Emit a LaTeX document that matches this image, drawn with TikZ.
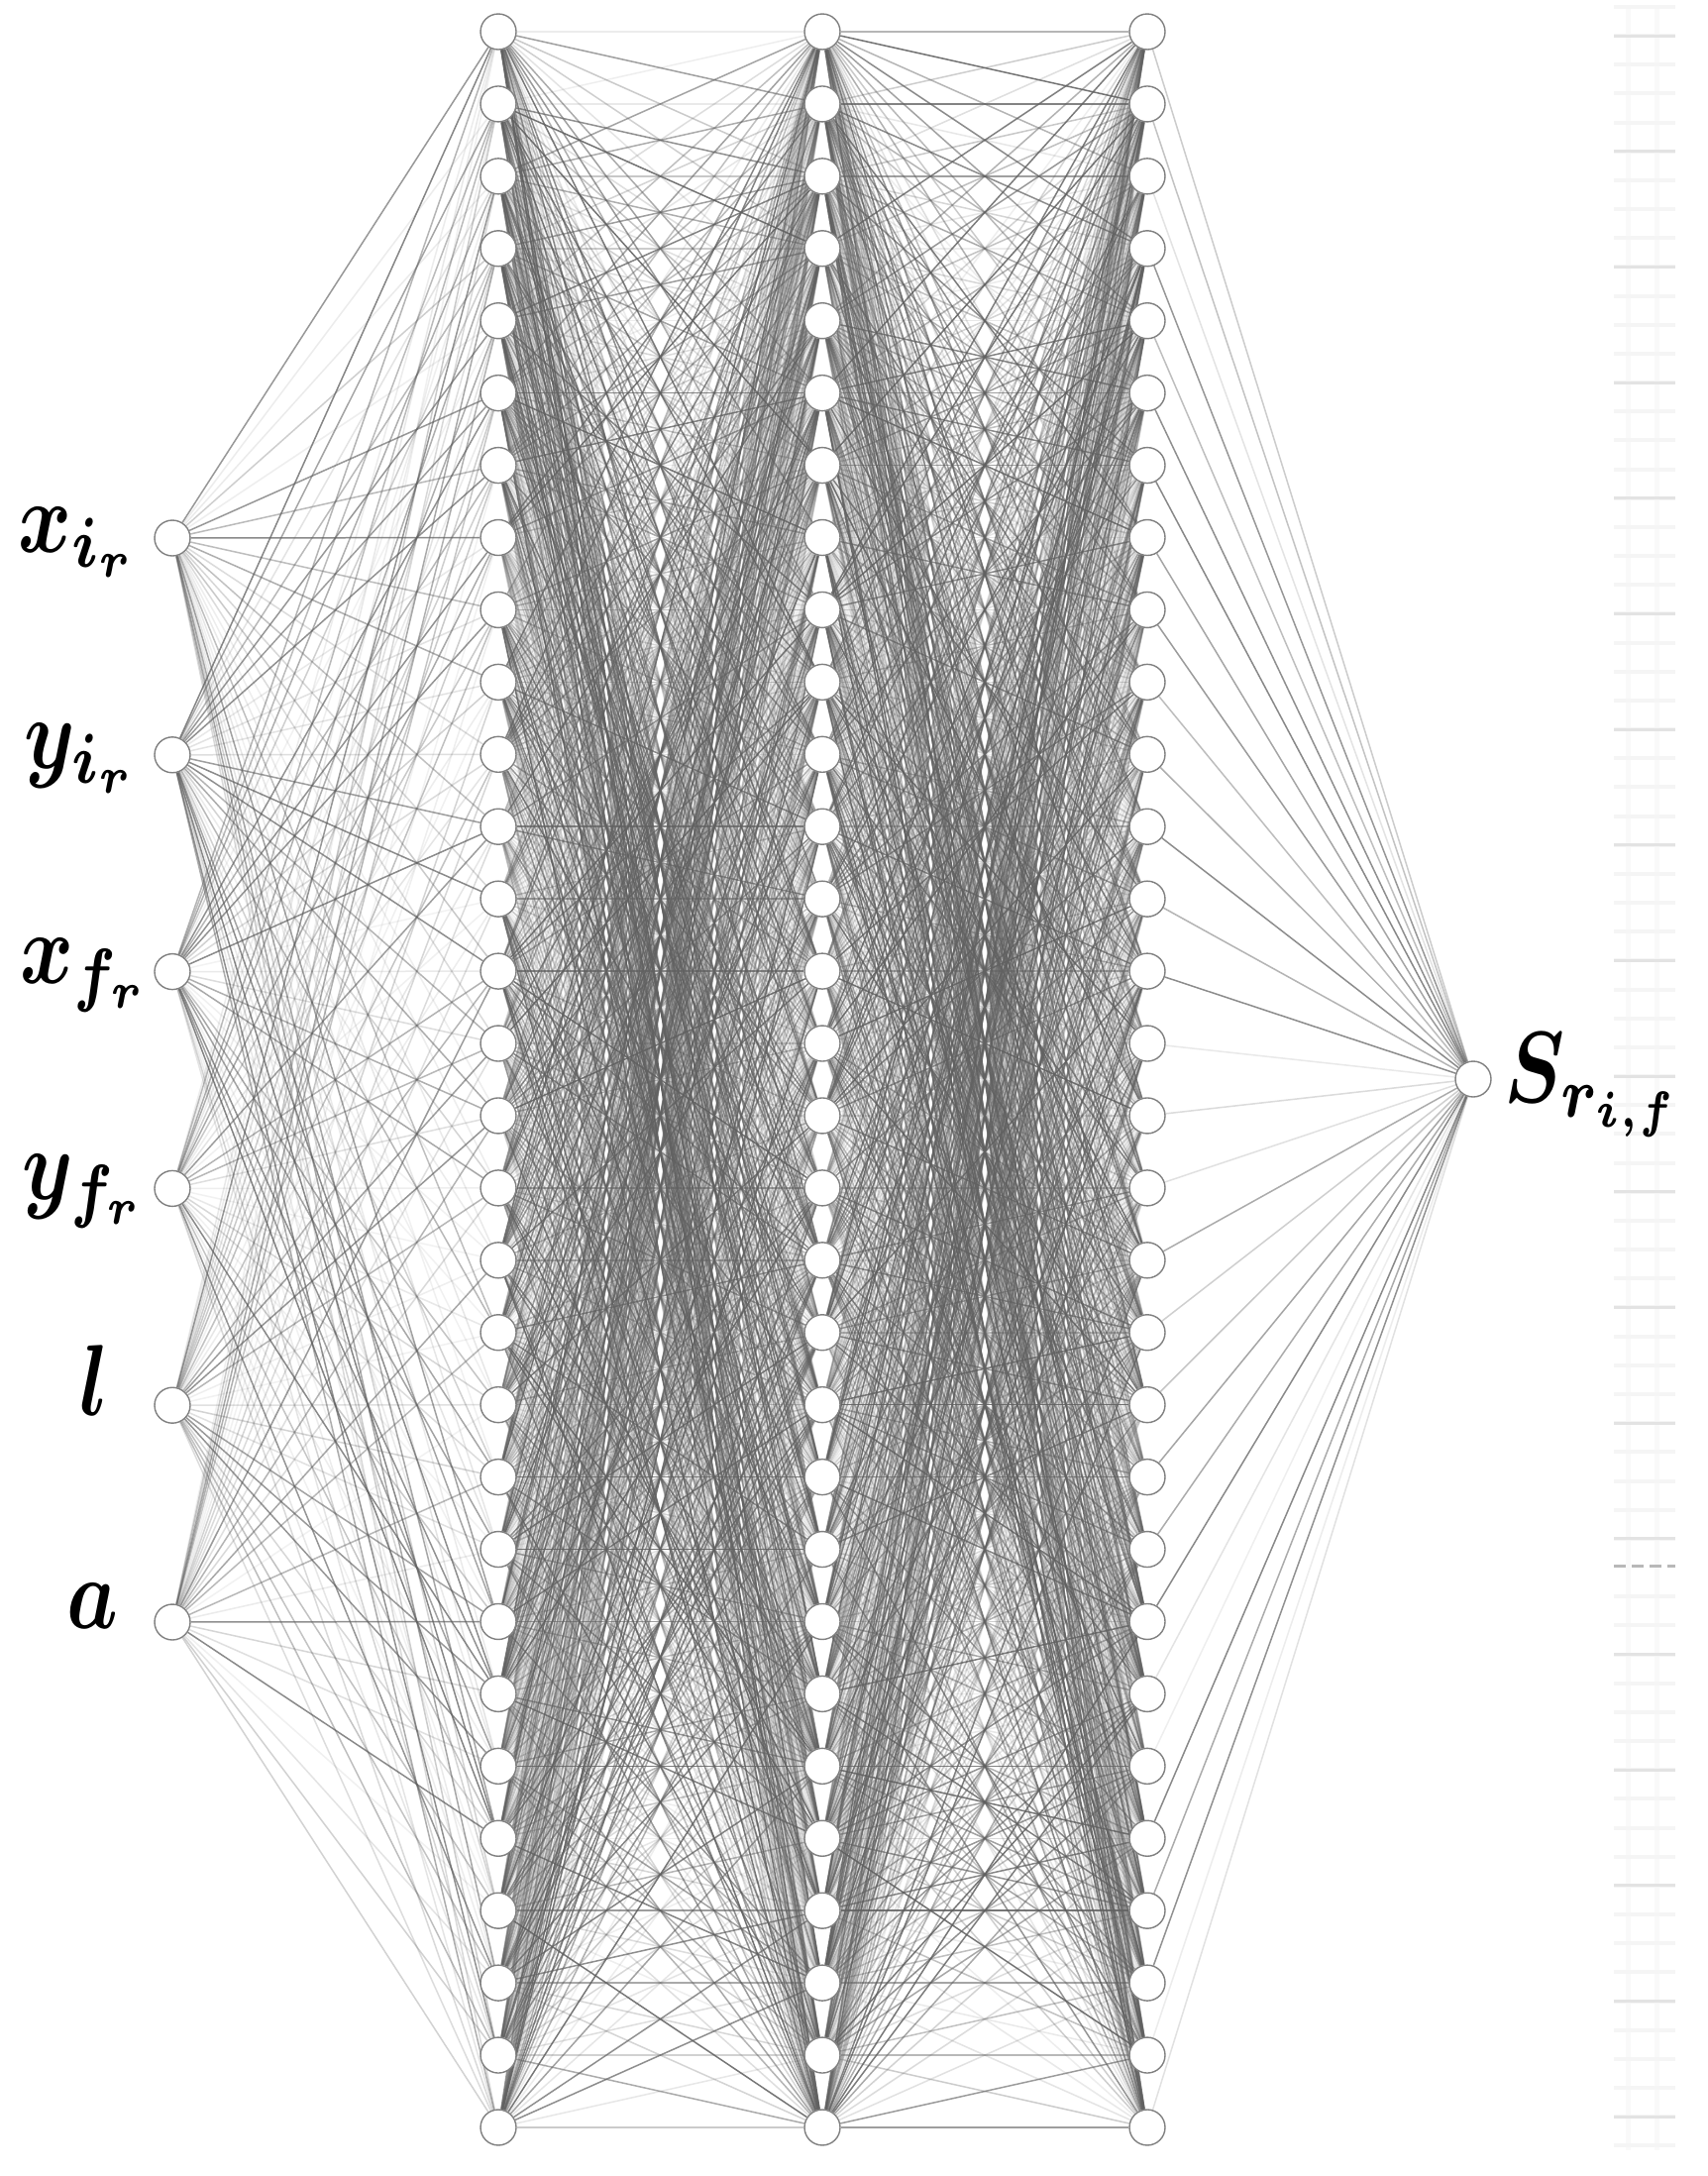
\documentclass[tikz,border=0pt]{standalone}
\usepackage{graphicx}
\usetikzlibrary{backgrounds}
\newcommand{\biglbl}[1]{\scalebox{4.1}[5.1]{\boldmath$#1$}}
\begin{document}
\begin{tikzpicture}[x=0.5pt,y=-0.5pt,
  neuron/.style={circle,draw=black!50,fill=white,line width=0.7pt,minimum size=18pt,inner sep=0pt},
  edge/.style={draw=black!62,line width=0.75pt},
  lbl/.style={anchor=base,inner sep=0pt},
  gridlight/.style={draw=black!4,line width=2pt},
  griddark/.style={draw=black!11,line width=1.5pt},
  gridvert/.style={draw=black!2.5,line width=2.5pt},
  griddash/.style={draw=black!28,line width=1.5pt,dash pattern=on 6pt off 3pt}]
\useasboundingbox (0,0) rectangle (1724,2196);
% nodes
\foreach \i in {1,...,6}{
  \node[neuron] (I\i) at (174,{543+218.8*(\i-1)}) {};
}
\foreach \l/\x in {1/503,2/830,3/1158}{
  \foreach \j in {1,...,30}{
    \node[neuron] (H\l-\j) at (\x,{32+72.93*(\j-1)}) {};
  }
}
\node[neuron] (O) at (1487,1089) {};
% labels
\node[lbl] (LI1) at (79,557) {\biglbl{x_{i_r}}};
\node[lbl] (LI2) at (82,775) {\biglbl{y_{i_r}}};
\node[lbl] (LI3) at (86,992) {\biglbl{x_{f_r}}};
\node[lbl] (LI4) at (85,1210) {\biglbl{y_{f_r}}};
\node[lbl] (LI5) at (95,1428) {\biglbl{l}};
\node[lbl] (LI6) at (93,1643) {\biglbl{a}};
\node[lbl] (LO) at (1608,1112) {\biglbl{S_{r_{i,f}}}};
\begin{pgfonlayer}{background}
  \fill[white] (0,0) rectangle (1724,2196);
  % faint grid at right
  \foreach \xx in {1643,1672}{\draw[gridvert] (\xx,5) -- (\xx,2170);}
  \foreach \k in {-1,...,73}{
    \ifnum\k=53\relax\else
      \draw[gridlight] (1629,{36+29.17*\k}) -- (1691,{36+29.17*\k});
    \fi
  }
  \foreach \m in {0,...,18}{\draw[griddark] (1629,{36+116.67*\m}) -- (1691,{36+116.67*\m});}
  \draw[griddash] (1629,1580) -- (1691,1580);
  % connections
  \pgfmathsetseed{7}
  \foreach \i in {1,...,6}{
    \foreach \j in {1,...,30}{
      \pgfmathsetmacro\op{0.08+0.7*rnd^1.5}
      \draw[edge,opacity=\op] (I\i) -- (H1-\j);
    }
  }
  \foreach \a/\b in {1/2,2/3}{
    \foreach \i in {1,...,30}{
      \foreach \j in {1,...,30}{
        \pgfmathsetmacro\op{0.1+0.8*rnd^1.5}
        \draw[edge,opacity=\op] (H\a-\i) -- (H\b-\j);
      }
    }
  }
  \foreach \j in {1,...,30}{
    \pgfmathsetmacro\op{0.1+0.7*rnd^1.5}
    \draw[edge,opacity=\op] (H3-\j) -- (O);
  }
\end{pgfonlayer}
\end{tikzpicture}
\end{document}
